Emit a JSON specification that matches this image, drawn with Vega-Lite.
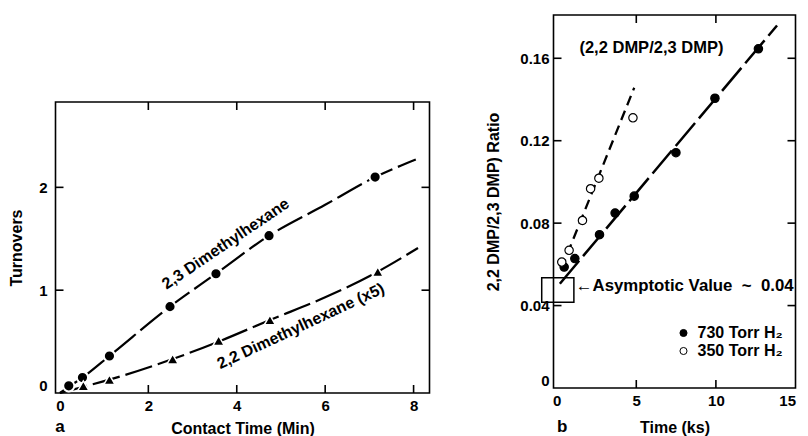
{
  "$schema": "https://vega.github.io/schema/vega-lite/v6.json",
  "padding": {"left": 7.5, "top": 14, "right": 5, "bottom": 0},
  "background": "white",
  "config": {
    "view": {"stroke": null},
    "font": "Liberation Sans",
    "axis": {"labelFont": "Liberation Sans", "labelFontWeight": "bold", "labelFontSize": 15, "labelColor": "black", "titleFont": "Liberation Sans", "titleFontWeight": "bold", "titleFontSize": 16, "titleColor": "black", "ticks": false, "domain": false, "grid": false},
    "legend": {"labelFont": "Liberation Sans", "labelFontWeight": "bold", "labelFontSize": 16, "labelColor": "black"},
    "text": {"font": "Liberation Sans", "fontWeight": "bold", "fontSize": 16, "color": "black"}
  },
  "datasets": {
    "a_points": [
      {"t": 0.2, "v": 0.07, "s": "2,3"}, {"t": 0.51, "v": 0.15, "s": "2,3"}, {"t": 1.12, "v": 0.36, "s": "2,3"}, {"t": 2.49, "v": 0.84, "s": "2,3"}, {"t": 3.53, "v": 1.16, "s": "2,3"}, {"t": 4.73, "v": 1.53, "s": "2,3"}, {"t": 7.13, "v": 2.1, "s": "2,3"},
      {"t": 0.53, "v": 0.07, "s": "2,2"}, {"t": 1.12, "v": 0.13, "s": "2,2"}, {"t": 2.55, "v": 0.33, "s": "2,2"}, {"t": 3.59, "v": 0.51, "s": "2,2"}, {"t": 4.75, "v": 0.71, "s": "2,2"}, {"t": 7.19, "v": 1.18, "s": "2,2"}
    ],
    "a_curves": [
      {"t": 0, "v": 0, "s": "2,3"}, {"t": 0.2, "v": 0.06, "s": "2,3"}, {"t": 0.51, "v": 0.15, "s": "2,3"}, {"t": 1.12, "v": 0.36, "s": "2,3"}, {"t": 2.49, "v": 0.84, "s": "2,3"}, {"t": 3.53, "v": 1.16, "s": "2,3"}, {"t": 4.73, "v": 1.53, "s": "2,3"}, {"t": 6.0, "v": 1.83, "s": "2,3"}, {"t": 7.13, "v": 2.1, "s": "2,3"}, {"t": 8.05, "v": 2.27, "s": "2,3"},
      {"t": 0, "v": 0, "s": "2,2"}, {"t": 0.53, "v": 0.06, "s": "2,2"}, {"t": 1.12, "v": 0.13, "s": "2,2"}, {"t": 2.55, "v": 0.33, "s": "2,2"}, {"t": 3.59, "v": 0.5, "s": "2,2"}, {"t": 4.75, "v": 0.71, "s": "2,2"}, {"t": 6.0, "v": 0.93, "s": "2,2"}, {"t": 7.19, "v": 1.18, "s": "2,2"}, {"t": 8.1, "v": 1.41, "s": "2,2"}
    ],
    "a_xt": [{"v": 2}, {"v": 4}, {"v": 6}, {"v": 8}],
    "a_yt": [{"v": 1}, {"v": 2}],
    "b_points": [
      {"t": 0.47, "r": 0.0587, "p": "730 Torr H₂"}, {"t": 1.14, "r": 0.0628, "p": "730 Torr H₂"}, {"t": 2.69, "r": 0.0744, "p": "730 Torr H₂"}, {"t": 3.67, "r": 0.0849, "p": "730 Torr H₂"}, {"t": 4.87, "r": 0.0931, "p": "730 Torr H₂"}, {"t": 7.49, "r": 0.1142, "p": "730 Torr H₂"}, {"t": 9.94, "r": 0.1406, "p": "730 Torr H₂"}, {"t": 12.67, "r": 0.1646, "p": "730 Torr H₂"},
      {"t": 0.32, "r": 0.0611, "p": "350 Torr H₂"}, {"t": 0.78, "r": 0.0668, "p": "350 Torr H₂"}, {"t": 1.62, "r": 0.0813, "p": "350 Torr H₂"}, {"t": 2.13, "r": 0.0967, "p": "350 Torr H₂"}, {"t": 2.65, "r": 0.1018, "p": "350 Torr H₂"}, {"t": 4.79, "r": 0.1311, "p": "350 Torr H₂"}
    ],
    "b_fits": [
      {"t": 0.2, "r": 0.0506, "p": "730"}, {"t": 13.84, "r": 0.1759, "p": "730"},
      {"t": 0.3, "r": 0.058, "p": "350"}, {"t": 4.87, "r": 0.1457, "p": "350"}
    ],
    "b_xt": [{"v": 5}, {"v": 10}],
    "b_yt": [{"v": 0.04}, {"v": 0.08}, {"v": 0.12}, {"v": 0.16}],
    "b_box": [{"t1": -0.94, "t2": 1.08, "r1": 0.0416, "r2": 0.0535}]
  },
  "hconcat": [
    {
      "spacing": 0,
      "vconcat": [
        {"width": 20, "height": 86, "data": {"values": []}, "mark": "point", "encoding": {}},
        {
          "width": 374, "height": 291,
          "resolve": {"axis": {"x": "independent", "y": "independent"}},
          "layer": [
            {
              "data": {"values": [{}]},
              "mark": {"type": "rect", "fillOpacity": 0, "stroke": "black", "strokeWidth": 1.6},
              "encoding": {
                "x": {"datum": -0.1, "type": "quantitative", "scale": {"domain": [-0.1, 8.36], "nice": false, "zero": false},
                      "axis": {"orient": "bottom", "values": [0, 2, 4, 6, 8], "title": "Contact Time (Min)", "labelPadding": 5, "titlePadding": 7}},
                "x2": {"datum": 8.36},
                "y": {"datum": 0, "type": "quantitative", "scale": {"domain": [0, 2.83], "nice": false, "zero": false},
                      "axis": {"orient": "left", "values": [0, 1, 2], "title": "Turnovers", "labelPadding": 8.5, "titlePadding": 14.5, "labelFlush": true}},
                "y2": {"datum": 2.83}
              }
            },
            {
              "data": {"name": "a_xt"},
              "mark": {"type": "rect", "color": "black", "xOffset": -0.8, "x2Offset": 0.8, "y2Offset": -8},
              "encoding": {"x": {"field": "v", "type": "quantitative", "axis": null}, "x2": {"field": "v"}, "y": {"datum": 0, "type": "quantitative", "axis": null}, "y2": {"datum": 0}}
            },
            {
              "data": {"name": "a_xt"},
              "mark": {"type": "rect", "color": "black", "xOffset": -0.8, "x2Offset": 0.8, "y2Offset": 8},
              "encoding": {"x": {"field": "v", "type": "quantitative", "axis": null}, "x2": {"field": "v"}, "y": {"datum": 2.83, "type": "quantitative", "axis": null}, "y2": {"datum": 2.83}}
            },
            {
              "data": {"name": "a_yt"},
              "mark": {"type": "rect", "color": "black", "yOffset": -0.8, "y2Offset": 0.8, "x2Offset": 8},
              "encoding": {"y": {"field": "v", "type": "quantitative", "axis": null}, "y2": {"field": "v"}, "x": {"datum": -0.1, "type": "quantitative", "axis": null}, "x2": {"datum": -0.1}}
            },
            {
              "data": {"name": "a_yt"},
              "mark": {"type": "rect", "color": "black", "yOffset": -0.8, "y2Offset": 0.8, "x2Offset": -8},
              "encoding": {"y": {"field": "v", "type": "quantitative", "axis": null}, "y2": {"field": "v"}, "x": {"datum": 8.36, "type": "quantitative", "axis": null}, "x2": {"datum": 8.36}}
            },
            {
              "data": {"name": "a_curves"},
              "mark": {"type": "line", "color": "black", "strokeWidth": 2.2, "strokeDash": [28, 6], "interpolate": "monotone"},
              "encoding": {
                "x": {"field": "t", "type": "quantitative", "axis": null},
                "y": {"field": "v", "type": "quantitative", "axis": null},
                "detail": {"field": "s"}
              }
            },
            {
              "data": {"name": "a_points"},
              "transform": [{"filter": "datum.s == '2,3'"}],
              "mark": {"type": "point", "shape": "circle", "filled": true, "fill": "black", "stroke": "white", "strokeWidth": 2, "size": 125, "opacity": 1},
              "encoding": {
                "x": {"field": "t", "type": "quantitative", "axis": null},
                "y": {"field": "v", "type": "quantitative", "axis": null}
              }
            },
            {
              "data": {"name": "a_points"},
              "transform": [{"filter": "datum.s == '2,2'"}],
              "mark": {"type": "point", "shape": "triangle-up", "filled": true, "fill": "black", "stroke": "white", "strokeWidth": 1.5, "size": 125, "opacity": 1},
              "encoding": {
                "x": {"field": "t", "type": "quantitative", "axis": null},
                "y": {"field": "v", "type": "quantitative", "axis": null}
              }
            },
            {
              "data": {"values": [{"t": 3.75, "v": 1.45, "label": "2,3 Dimethylhexane"}]},
              "mark": {"type": "text", "angle": -34, "align": "center", "baseline": "middle"},
              "encoding": {
                "x": {"field": "t", "type": "quantitative", "axis": null},
                "y": {"field": "v", "type": "quantitative", "axis": null},
                "text": {"field": "label"}
              }
            },
            {
              "data": {"values": [{"t": 5.45, "v": 0.65, "label": "2,2 Dimethylhexane (x5)"}]},
              "mark": {"type": "text", "angle": -25, "align": "center", "baseline": "middle"},
              "encoding": {
                "x": {"field": "t", "type": "quantitative", "axis": null},
                "y": {"field": "v", "type": "quantitative", "axis": null},
                "text": {"field": "label"}
              }
            },
            {
              "data": {"values": [{"t": 0, "v": -0.375, "label": "a"}]},
              "mark": {"type": "text", "align": "center", "baseline": "alphabetic", "fontSize": 17},
              "encoding": {
                "x": {"field": "t", "type": "quantitative", "axis": null},
                "y": {"field": "v", "type": "quantitative", "axis": null},
                "text": {"field": "label"}
              }
            }
          ]
        }
      ]
    },
    {
      "width": 242, "height": 373,
      "resolve": {"axis": {"x": "independent", "y": "independent"}},
      "layer": [
        {
          "data": {"values": [{}]},
          "mark": {"type": "rect", "fillOpacity": 0, "stroke": "black", "strokeWidth": 1.6},
          "encoding": {
            "x": {"datum": -0.2, "type": "quantitative", "scale": {"domain": [-0.2, 15], "nice": false, "zero": false},
                  "axis": {"orient": "bottom", "values": [0, 5, 10, 15], "title": "Time (ks)", "labelPadding": 5, "titlePadding": 11}},
            "x2": {"datum": 15},
            "y": {"datum": 0, "type": "quantitative", "scale": {"domain": [0, 0.181], "nice": false, "zero": false},
                  "axis": {"orient": "left", "values": [0, 0.04, 0.08, 0.12, 0.16], "labelExpr": "datum.value == 0 ? '0' : format(datum.value, '.2f')", "title": "2,2 DMP/2,3 DMP) Ratio", "labelPadding": 4.5, "titlePadding": 18, "labelFlush": true}},
            "y2": {"datum": 0.181}
          }
        },
        {
          "data": {"name": "b_xt"},
          "mark": {"type": "rect", "color": "black", "xOffset": -0.8, "x2Offset": 0.8, "y2Offset": -8},
          "encoding": {"x": {"field": "v", "type": "quantitative", "axis": null}, "x2": {"field": "v"}, "y": {"datum": 0, "type": "quantitative", "axis": null}, "y2": {"datum": 0}}
        },
        {
          "data": {"name": "b_xt"},
          "mark": {"type": "rect", "color": "black", "xOffset": -0.8, "x2Offset": 0.8, "y2Offset": 8},
          "encoding": {"x": {"field": "v", "type": "quantitative", "axis": null}, "x2": {"field": "v"}, "y": {"datum": 0.181, "type": "quantitative", "axis": null}, "y2": {"datum": 0.181}}
        },
        {
          "data": {"name": "b_yt"},
          "mark": {"type": "rect", "color": "black", "yOffset": -0.8, "y2Offset": 0.8, "x2Offset": 8},
          "encoding": {"y": {"field": "v", "type": "quantitative", "axis": null}, "y2": {"field": "v"}, "x": {"datum": -0.2, "type": "quantitative", "axis": null}, "x2": {"datum": -0.2}}
        },
        {
          "data": {"name": "b_yt"},
          "mark": {"type": "rect", "color": "black", "yOffset": -0.8, "y2Offset": 0.8, "x2Offset": -8},
          "encoding": {"y": {"field": "v", "type": "quantitative", "axis": null}, "y2": {"field": "v"}, "x": {"datum": 15, "type": "quantitative", "axis": null}, "x2": {"datum": 15}}
        },
        {
          "data": {"name": "b_fits"},
          "transform": [{"filter": "datum.p == '730'"}],
          "mark": {"type": "line", "color": "black", "strokeWidth": 2.5, "strokeDash": [30, 6]},
          "encoding": {
            "x": {"field": "t", "type": "quantitative", "axis": null},
            "y": {"field": "r", "type": "quantitative", "axis": null}
          }
        },
        {
          "data": {"name": "b_fits"},
          "transform": [{"filter": "datum.p == '350'"}],
          "mark": {"type": "line", "color": "black", "strokeWidth": 2.3, "strokeDash": [10, 6]},
          "encoding": {
            "x": {"field": "t", "type": "quantitative", "axis": null},
            "y": {"field": "r", "type": "quantitative", "axis": null}
          }
        },
        {
          "data": {"name": "b_box"},
          "mark": {"type": "rect", "fillOpacity": 0, "stroke": "black", "strokeWidth": 1.5},
          "encoding": {
            "x": {"field": "t1", "type": "quantitative", "axis": null},
            "x2": {"field": "t2"},
            "y": {"field": "r1", "type": "quantitative", "axis": null},
            "y2": {"field": "r2"}
          }
        },
        {
          "data": {"name": "b_points"},
          "mark": {"type": "point", "shape": "circle", "filled": true, "stroke": "black", "strokeWidth": 1.2, "size": 70, "opacity": 1},
          "encoding": {
            "x": {"field": "t", "type": "quantitative", "axis": null},
            "y": {"field": "r", "type": "quantitative", "axis": null},
            "fill": {"field": "p", "type": "nominal", "scale": {"domain": ["730 Torr H₂", "350 Torr H₂"], "range": ["black", "white"]},
                     "legend": {"title": null, "orient": "none", "legendX": 620, "legendY": 310, "symbolStrokeColor": "black", "symbolStrokeWidth": 1, "symbolSize": 50, "labelOffset": 6, "rowPadding": 2}}
          }
        },
        {
          "data": {"values": [{"t": 5.95, "r": 0.1652, "label": "(2,2 DMP/2,3 DMP)"}]},
          "mark": {"type": "text", "align": "center", "baseline": "middle", "fontSize": 16.5},
          "encoding": {
            "x": {"field": "t", "type": "quantitative", "axis": null},
            "y": {"field": "r", "type": "quantitative", "axis": null},
            "text": {"field": "label"}
          }
        },
        {
          "data": {"values": [{"t": 1.2, "r": 0.0493, "label": "\u2190Asymptotic Value\u00a0 ~ \u00a00.04"}]},
          "mark": {"type": "text", "align": "left", "baseline": "middle", "fontSize": 16.8},
          "encoding": {
            "x": {"field": "t", "type": "quantitative", "axis": null},
            "y": {"field": "r", "type": "quantitative", "axis": null},
            "text": {"field": "label"}
          }
        },
        {
          "data": {"values": [{"t": 0.35, "r": -0.0212, "label": "b"}]},
          "mark": {"type": "text", "align": "center", "baseline": "alphabetic", "fontSize": 17},
          "encoding": {
            "x": {"field": "t", "type": "quantitative", "axis": null},
            "y": {"field": "r", "type": "quantitative", "axis": null},
            "text": {"field": "label"}
          }
        }
      ]
    }
  ],
  "spacing": 55
}
